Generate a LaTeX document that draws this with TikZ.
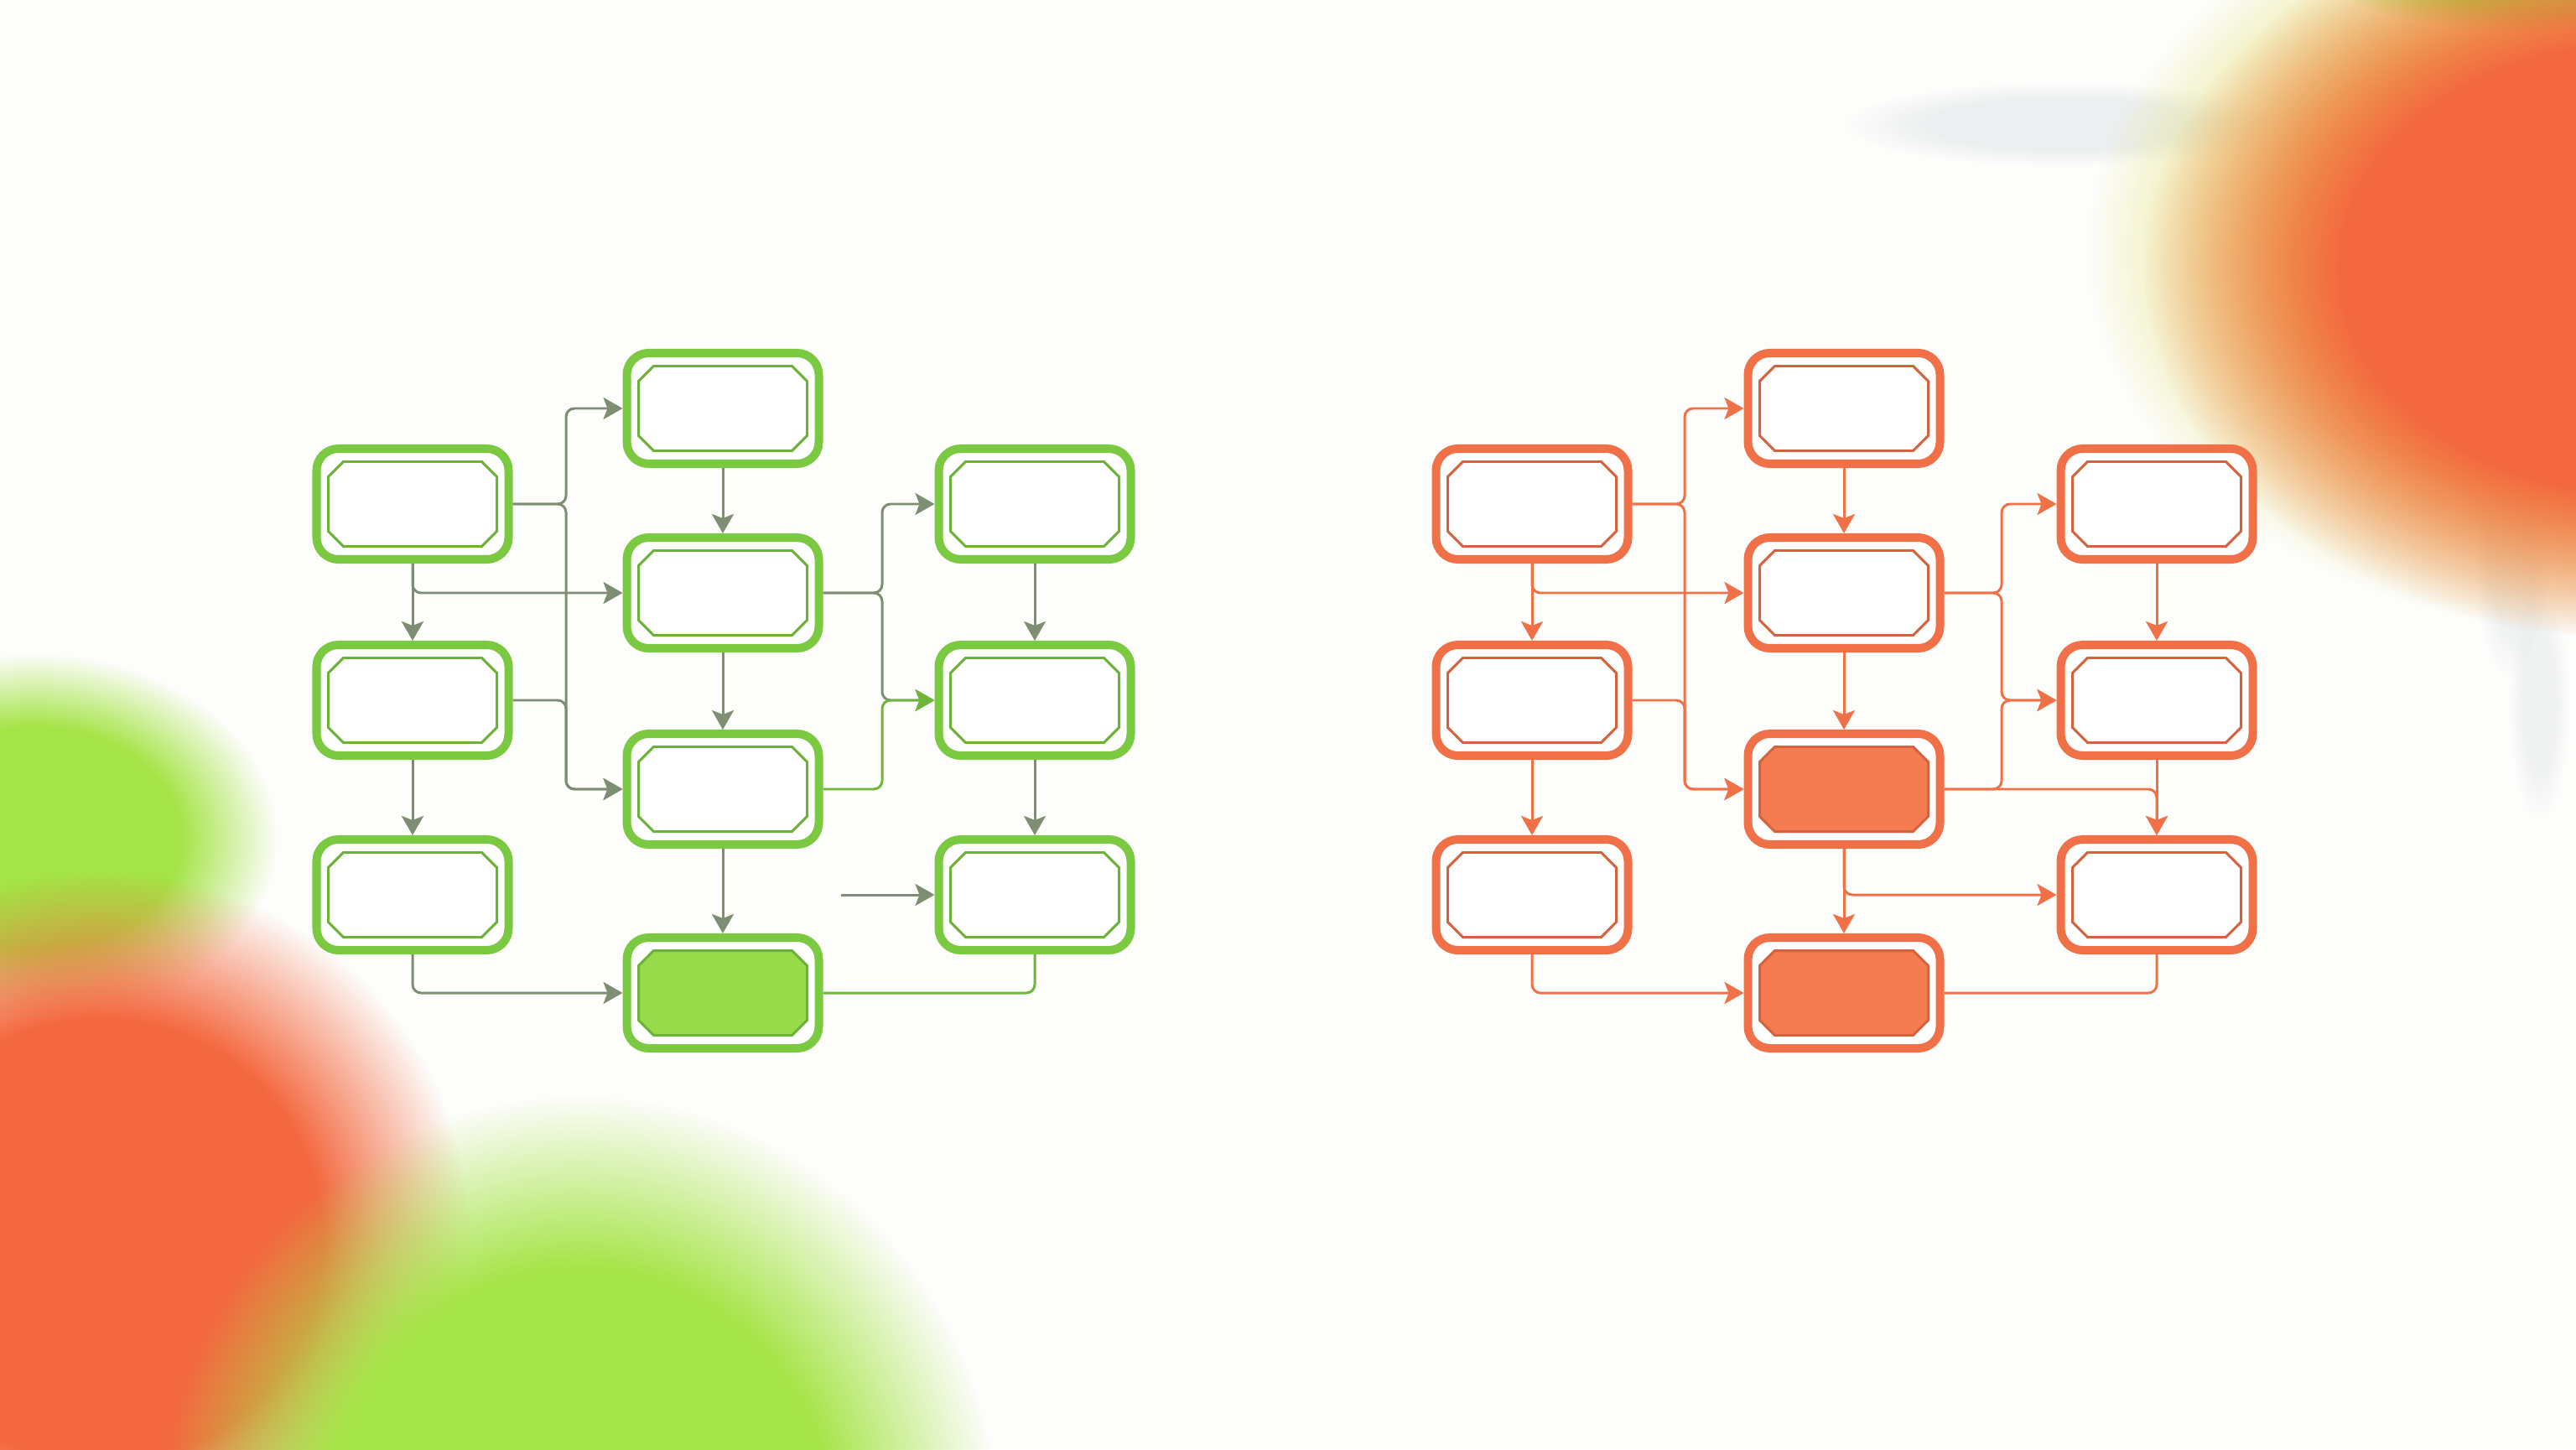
\documentclass[tikz,border=0pt]{standalone}
\usepackage{tikz}
\usetikzlibrary{arrows.meta,fadings}
\definecolor{paper}{RGB}{253, 253, 251}
\definecolor{leaf}{RGB}{123, 201, 64}
\definecolor{leafdark}{RGB}{108, 182, 58}
\definecolor{leaflight}{RGB}{152, 219, 74}
\definecolor{sage}{RGB}{126, 142, 114}
\definecolor{coral}{RGB}{240, 113, 72}
\definecolor{corallight}{RGB}{245, 123, 80}
\definecolor{lime}{RGB}{165, 228, 70}
\definecolor{tomato}{RGB}{244, 104, 63}
\definecolor{straw}{RGB}{226, 222, 100}
\definecolor{mist}{RGB}{176, 190, 200}

% opaque core, soft edge
\pgfdeclareradialshading{blobshade}{\pgfpointorigin}{color(0bp)=(pgftransparent!0); color(15bp)=(pgftransparent!0); color(25bp)=(pgftransparent!100); color(50bp)=(pgftransparent!100)}
\pgfdeclarefading{softblob}{\pgfuseshading{blobshade}}

\tikzset{
  stage/.style 2 args={draw=#1, line width=2.85pt, fill=white, rounded corners=0.26cm,
    minimum width=2.29cm, minimum height=1.32cm, inner sep=0pt,
    path picture={\draw[shift={(path picture bounding box.center)}, sharp corners,
        draw=#1!88!black, line width=0.85pt, fill=#2]
        (-0.825,-0.505) -- (0.825,-0.505) -- (1.005,-0.325) -- (1.005,0.325)
        -- (0.825,0.505) -- (-0.825,0.505) -- (-1.005,0.325) -- (-1.005,-0.325) -- cycle;}},
  flow/.style={draw=#1, line width=0.85pt, rounded corners=0.1cm,
    -{Stealth[length=0.23cm, width=0.26cm, inset=0.05cm]}},
  link/.style={draw=#1, line width=0.85pt, rounded corners=0.1cm},
  blob/.style={fill=#1, path fading=softblob},
  haze/.style={fill=mist, path fading=softblob, fill opacity=#1},
}

\begin{document}
\begin{tikzpicture}
            \useasboundingbox (0,0) rectangle (30.72,17.28);
            \fill[paper] (0,0) rectangle (30.72,17.28);

            % soft blobs in the corners
            \begin{scope}
            \clip (0,0) rectangle (30.72,17.28);
            \fill[blob=lime]   ( 0.40, 7.28) ellipse (2.90 and 2.20);
            \fill[blob=tomato] ( 1.20, 2.48) ellipse (4.40 and 4.40);
            \fill[blob=lime]   ( 6.90,-1.00) ellipse (5.00 and 5.20);
            \fill[haze=0.22]   (24.60,15.80) ellipse (2.60 and 0.50);
            \fill[haze=0.18]   (29.95,10.70) ellipse (0.45 and 1.50);
            \fill[haze=0.16]   (30.28, 8.90) ellipse (0.35 and 1.40);
            \fill[blob=straw]  (31.30,14.30) ellipse (6.40 and 4.60);
            \fill[blob=lime]   (30.60,17.55) ellipse (2.80 and 0.70);
            \fill[blob=tomato] (31.50,14.08) ellipse (5.93 and 4.42);
            \end{scope}

            % green chart
            \node[stage={leaf}{white}]     (gB0) at ( 8.62,12.41) {};
            \node[stage={leaf}{white}]     (gA1) at ( 4.92,11.27) {};
            \node[stage={leaf}{white}]     (gB1) at ( 8.62,10.21) {};
            \node[stage={leaf}{white}]     (gA2) at ( 4.92, 8.93) {};
            \node[stage={leaf}{white}]     (gB2) at ( 8.62, 7.87) {};
            \node[stage={leaf}{white}]     (gA3) at ( 4.92, 6.61) {};
            \node[stage={leaf}{leaflight}] (gB3) at ( 8.62, 5.44) {};
            \node[stage={leaf}{white}]     (gC1) at (12.34,11.27) {};
            \node[stage={leaf}{white}]     (gC2) at (12.34, 8.93) {};
            \node[stage={leaf}{white}]     (gC3) at (12.34, 6.61) {};
            \coordinate (gT1) at ( 6.75, 0);
            \coordinate (gT2) at (10.52, 0);
            \coordinate (gS)  at (10.03, 6.61);

            \draw[flow=sage] (gA1.east) -- (gA1.east -| gT1) |- (gB0.west);
            \draw[flow=sage] (gA1.east) -- (gA1.east -| gT1) |- (gB2.west);
            \draw[flow=sage] (gA2.east) -- (gA2.east -| gT1) |- (gB2.west);
            \draw[flow=sage] (gA1.south) |- (gB1.west);
            \draw[flow=sage] (gA1) -- (gA2);
            \draw[flow=sage] (gA2) -- (gA3);
            \draw[flow=sage] (gA3.south) |- (gB3.west);
            \draw[flow=sage] (gB0) -- (gB1);
            \draw[flow=sage] (gB1) -- (gB2);
            \draw[flow=sage] (gB2) -- (gB3);
            \draw[flow=sage] (gB1.east) -- (gB1.east -| gT2) |- (gC1.west);
            \draw[flow=sage] (gB1.east) -- (gB1.east -| gT2) |- (gC2.west);
            \draw[flow=leafdark] (gB2.east) -- (gB2.east -| gT2) |- (gC2.west);
            \draw[flow=sage] (gC1) -- (gC2);
            \draw[flow=sage] (gC2) -- (gC3);
            \draw[flow=sage] (gS) -- (gC3.west);
            \draw[link=leafdark] (gC3.south) |- (gB3.east);

            % orange chart
            \node[stage={coral}{white}]      (oB0) at (21.99,12.41) {};
            \node[stage={coral}{white}]      (oA1) at (18.27,11.27) {};
            \node[stage={coral}{white}]      (oB1) at (21.99,10.21) {};
            \node[stage={coral}{white}]      (oA2) at (18.27, 8.93) {};
            \node[stage={coral}{corallight}] (oB2) at (21.99, 7.87) {};
            \node[stage={coral}{white}]      (oA3) at (18.27, 6.61) {};
            \node[stage={coral}{corallight}] (oB3) at (21.99, 5.44) {};
            \node[stage={coral}{white}]      (oC1) at (25.72,11.27) {};
            \node[stage={coral}{white}]      (oC2) at (25.72, 8.93) {};
            \node[stage={coral}{white}]      (oC3) at (25.72, 6.61) {};
            \coordinate (oT1) at (20.09, 0);
            \coordinate (oT2) at (23.87, 0);

            \draw[flow=coral] (oA1.east) -- (oA1.east -| oT1) |- (oB0.west);
            \draw[flow=coral] (oA1.east) -- (oA1.east -| oT1) |- (oB2.west);
            \draw[flow=coral] (oA2.east) -- (oA2.east -| oT1) |- (oB2.west);
            \draw[flow=coral] (oA1.south) |- (oB1.west);
            \draw[flow=coral] (oA1) -- (oA2);
            \draw[flow=coral] (oA2) -- (oA3);
            \draw[flow=coral] (oA3.south) |- (oB3.west);
            \draw[flow=coral] (oB0) -- (oB1);
            \draw[flow=coral] (oB1) -- (oB2);
            \draw[flow=coral] (oB2) -- (oB3);
            \draw[flow=coral] (oB1.east) -- (oB1.east -| oT2) |- (oC1.west);
            \draw[flow=coral] (oB1.east) -- (oB1.east -| oT2) |- (oC2.west);
            \draw[flow=coral] (oB2.east) -- (oB2.east -| oT2) |- (oC2.west);
            \draw[flow=coral] (oB2.east) -| (oC3.north);
            \draw[flow=coral] (oB2.south) |- (oC3.west);
            \draw[flow=coral] (oC1) -- (oC2);
            \draw[flow=coral] (oC2) -- (oC3);
            \draw[link=coral] (oC3.south) |- (oB3.east);
\end{tikzpicture}
\end{document}
